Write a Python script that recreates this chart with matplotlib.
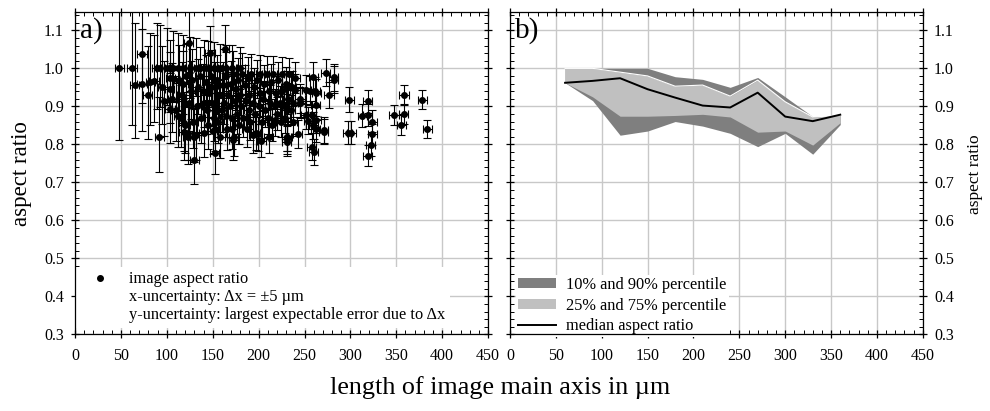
import numpy as np
import matplotlib
matplotlib.use("Agg")
import matplotlib.pyplot as plt
from matplotlib.lines import Line2D
from matplotlib.patches import Patch
from matplotlib.ticker import MultipleLocator

plt.rcParams['font.family'] = ['Liberation Serif', 'DejaVu Serif']

# ---------------- panel a data (length in um, aspect ratio) ----------------
length_um = [
    48, 62, 65, 73, 73, 79, 82, 86, 92, 124, 130, 147, 152, 163,
    89, 93, 100, 107, 112, 118, 125, 132, 140, 145, 151, 158, 165, 171, 180,
    97, 95, 103, 104, 106, 110, 113, 115, 116, 118, 120, 121, 123, 124, 126, 127,
    129, 130, 132, 133, 134, 136, 137, 139, 140, 141, 143, 144, 145, 146, 148,
    149, 150, 151, 152, 154, 155, 156, 157, 158, 160, 161, 162, 164, 165, 166,
    167, 169, 170, 171, 172, 173, 174, 175, 176, 178, 179, 180, 181, 182, 183,
    185, 186, 187, 188, 189, 190, 191, 192, 194, 195, 196, 197, 198, 200, 201,
    202, 204, 205, 206, 207, 209, 210, 211, 212, 214, 215, 216, 218, 219, 220,
    221, 223, 224, 225, 226, 228, 229, 230, 231, 232, 233, 235, 236, 237, 238, 240,
    103.5, 112.5, 118.6, 118.6, 123, 152, 171, 172.5, 194, 199, 203, 211, 218,
    230.6, 230.6, 230.6, 230.6, 229.8, 239.6, 242.5, 245, 245, 245, 251.6, 252,
    254, 256, 257.7, 258, 259.6, 259.6, 260, 261.5, 262, 262, 263, 263, 271, 271,
    273, 276.7, 282, 282,
    297, 299, 301, 313, 319, 319, 319, 322, 324, 324, 347.5, 355.5, 358.4, 358,
    378.4, 383.9,
]
aspect = [
    1.0, 1.0, 0.956, 1.039, 0.96, 0.929, 0.965, 0.967, 0.82, 1.067, 0.76, 1.04, 0.778, 1.05,
    1.0, 1.0, 1.0, 1.0, 1.0, 1.0, 1.0, 1.0, 1.0, 1.0, 1.0, 1.0, 1.0, 1.0, 1.0,
    0.915, 0.95, 0.945, 0.975, 0.92, 0.89, 0.97, 0.87, 0.93, 0.96, 0.85, 0.98, 0.83, 0.91, 0.94, 0.97,
    0.86, 0.82, 0.825, 0.9, 0.95, 0.98, 0.87, 0.94, 0.83, 0.91, 0.965, 0.89, 0.85, 0.935, 0.98,
    0.91, 0.835, 0.87, 0.95, 0.9, 0.97, 0.86, 0.93, 0.82, 0.89, 0.955, 0.91, 0.875, 0.98, 0.84,
    0.93, 0.9, 0.96, 0.87, 0.985, 0.82, 0.915, 0.945, 0.88, 0.97, 0.85, 0.93, 0.9, 0.985, 0.87,
    0.955, 0.915, 0.84, 0.975, 0.89, 0.93, 0.86, 0.985, 0.91, 0.95, 0.88, 0.83, 0.97, 0.9, 0.935,
    0.985, 0.86, 0.92, 0.96, 0.89, 0.985, 0.87, 0.94, 0.91, 0.965, 0.85, 0.985, 0.9, 0.935, 0.88,
    0.97, 0.91, 0.86, 0.985, 0.94, 0.9, 0.87, 0.96, 0.82, 0.92, 0.985, 0.89, 0.95, 0.86, 0.91, 0.975,
    0.892, 0.874, 0.857, 0.833, 0.82, 0.84, 0.84, 0.811, 0.824, 0.826, 0.809, 0.82, 0.864,
    0.807, 0.82, 0.813, 0.89, 0.95, 0.943, 0.826, 0.92, 0.91, 0.908, 0.877, 0.943,
    0.862, 0.94, 0.794, 0.877, 0.978, 0.85, 0.78, 0.94, 0.903, 0.84, 0.864, 0.935, 0.837, 0.833,
    0.988, 0.929, 0.976, 0.97,
    0.83, 0.917, 0.83, 0.875, 0.913, 0.877, 0.77, 0.798, 0.86, 0.826, 0.877, 0.851, 0.93, 0.88,
    0.918, 0.84,
]
dx_um = 5.0  # x-uncertainty

# ---------------- panel b data (percentiles per length bin) ----------------
bin_length = [60, 90, 120, 150, 180, 210, 240, 270, 300, 330, 360]
p10 = [0.962, 0.915, 0.824, 0.835, 0.860, 0.848, 0.829, 0.794, 0.829, 0.774, 0.852]
p25 = [0.962, 0.925, 0.874, 0.874, 0.876, 0.879, 0.872, 0.832, 0.835, 0.798, 0.857]
p75 = [1.000, 1.000, 0.990, 0.980, 0.953, 0.956, 0.927, 0.969, 0.912, 0.872, 0.876]
p90 = [1.000, 1.000, 1.000, 1.000, 0.978, 0.971, 0.950, 0.976, 0.925, 0.873, 0.878]
median = [0.962, 0.967, 0.974, 0.945, 0.923, 0.902, 0.897, 0.936, 0.873, 0.861, 0.878]

# y-uncertainty: largest expectable error due to dx
L = np.array(length_um, dtype=float)
A = np.array(aspect, dtype=float)
W = A * L
a_lo = (W - dx_um) / (L + dx_um)
a_hi = (W + dx_um) / (L - dx_um)
yerr = np.vstack([A - a_lo, a_hi - A])

fig = plt.figure(figsize=(9.9, 4.11), dpi=100)
axa = fig.add_axes([0.0758, 0.1866, 0.4172, 0.783])
axb = fig.add_axes([0.5152, 0.1866, 0.4169, 0.783])

grid_c = '#c8c8c8'
for ax in (axa, axb):
    ax.set_xlim(0, 450)
    ax.set_ylim(0.3, 1.147)
    ax.xaxis.set_major_locator(MultipleLocator(50))
    ax.xaxis.set_minor_locator(MultipleLocator(10))
    ax.yaxis.set_major_locator(MultipleLocator(0.1))
    ax.yaxis.set_minor_locator(MultipleLocator(0.02))
    ax.grid(True, which='major', color=grid_c, lw=1.0, zorder=0)
    ax.set_axisbelow(True)
    ax.tick_params(which='major', direction='inout', length=6, width=0.9,
                   top=True, right=True, labelsize=11.5, pad=5)
    ax.tick_params(axis='x', which='major', pad=7)
    ax.tick_params(which='minor', direction='in', length=3, width=0.7,
                   top=True, right=True)
    for s in ax.spines.values():
        s.set_linewidth(0.9)
    ax.set_yticks([0.3, 0.4, 0.5, 0.6, 0.7, 0.8, 0.9, 1.0, 1.1])
    ax.set_yticklabels(['0.3', '0.4', '0.5', '0.6', '0.7', '0.8', '0.9', '1.0', '1.1'])

# panel a
axa.errorbar(L, A, xerr=dx_um, yerr=yerr, fmt='o', color='black', ms=4,
             ecolor='black', elinewidth=0.8, capsize=3.2, capthick=0.8, zorder=3)
h_pt = Line2D([], [], marker='o', ls='none', color='black', ms=4)
h_blank = Line2D([], [], ls='none')
lega = axa.legend([h_pt, h_blank, h_blank],
                  ['image aspect ratio', 'x-uncertainty: \u0394x = \u00b15 \u00b5m',
                   'y-uncertainty: largest expectable error due to \u0394x'],
                  loc='lower left', bbox_to_anchor=(0.0, 0.016),
                  fontsize=11.8, frameon=True, fancybox=False,
                  framealpha=1, facecolor='white', edgecolor='none',
                  labelspacing=0.12, handlelength=2.3, handletextpad=0.65,
                  borderpad=0.3, borderaxespad=0.05)
lega.set_zorder(2.45)
axa.text(0.012, 0.985, 'a)', transform=axa.transAxes, fontsize=21,
         va='top', ha='left', zorder=6)
axa.tick_params(axis='y', labelleft=True, labelright=False)

# panel b
axb.fill_between(bin_length, p10, p90, color='#7f7f7f', lw=0, zorder=2)
axb.fill_between(bin_length, p25, p75, color='#c0c0c0', lw=0, zorder=2.1)
axb.plot(bin_length, p75, color='white', lw=0.8, zorder=2.2)
axb.plot(bin_length, median, color='black', lw=1.4, zorder=2.3)
hb = [Patch(facecolor='#7f7f7f', edgecolor='none'),
      Patch(facecolor='#c0c0c0', edgecolor='none'),
      Line2D([], [], color='black', lw=1.4)]
legb = axb.legend(hb, ['10% and 90% percentile', '25% and 75% percentile',
                       'median aspect ratio'],
                  loc='lower left', bbox_to_anchor=(0.012, -0.01),
                  fontsize=11.8, frameon=True, fancybox=False,
                  framealpha=1, facecolor='white', edgecolor='none',
                  labelspacing=0.28, handlelength=2.3, handleheight=0.55,
                  handletextpad=0.6, borderpad=0.15, borderaxespad=0.05)
legb.set_zorder(2.45)
axb.text(0.012, 0.985, 'b)', transform=axb.transAxes, fontsize=21,
         va='top', ha='left', zorder=6)
axb.tick_params(axis='y', labelleft=False, labelright=True)

fig.text(0.022, 0.5766, 'aspect ratio', rotation=90, ha='center', va='center', fontsize=16.5)
fig.text(0.985, 0.5766, 'aspect ratio', rotation=90, ha='center', va='center', fontsize=12.5)
fig.text(0.505, 0.056, 'length of image main axis in \u00b5m', ha='center', va='center', fontsize=18.8)

fig.savefig('out.png', dpi=100)
